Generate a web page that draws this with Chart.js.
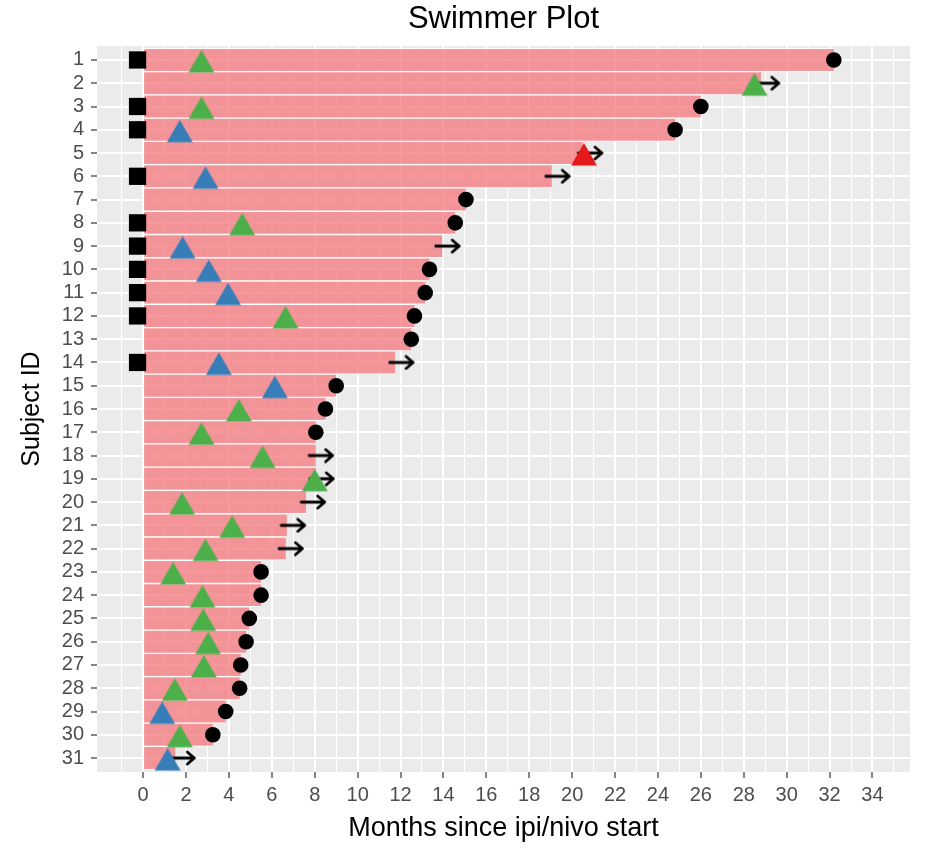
<!DOCTYPE html>
<html>
<head>
<meta charset="utf-8">
<script src="https://cdn.jsdelivr.net/npm/chart.js@4.4.1/dist/chart.umd.min.js"></script>
<style>
  body { margin: 0; background: #fff; }
  #wrap { width: 943px; height: 851px; }
</style>
</head>
<body>
<div id="wrap"><canvas id="myChart"></canvas></div>
<script>
// dane
const subjects = [1, 2, 3, 4, 5, 6, 7, 8, 9, 10, 11, 12, 13, 14, 15, 16, 17, 18, 19, 20, 21, 22, 23, 24, 25, 26, 27, 28, 29, 30, 31];
const months = [32.2, 28.8, 26.0, 24.8, 20.5, 19.05, 15.05, 14.55, 13.95, 13.35, 13.15, 12.65, 12.5, 11.75, 9.0, 8.5,
  8.05, 8.05, 8.05, 7.6, 6.7, 6.65, 5.5, 5.5, 4.95, 4.8, 4.55, 4.5, 3.85, 3.25, 1.5];

// czarne kwadraty (przed startem)
const squareIds = [1, 3, 4, 6, 8, 9, 10, 11, 12, 14];
const squareX = [-0.26, -0.26, -0.26, -0.26, -0.26, -0.26, -0.26, -0.26, -0.26, -0.26];

// trojkaty - odpowiedzi
const greenIds = [1, 2, 3, 8, 12, 16, 17, 18, 19, 20, 21, 22, 23, 24, 25, 26, 27, 28, 30];
const greenX = [2.72, 28.5, 2.72, 4.62, 6.64, 4.46, 2.72, 5.57, 8.0, 1.82, 4.15, 2.91, 1.4, 2.77, 2.8, 3.03, 2.83, 1.48, 1.71];
const blueIds = [4, 6, 9, 10, 11, 14, 15, 29, 31];
const blueX = [1.71, 2.91, 1.84, 3.06, 3.96, 3.53, 6.14, 0.89, 1.14];
const redIds = [5];
const redX = [20.55];

// kolka = koniec obserwacji, strzalki = dalej w trakcie
const circleIds = [1, 3, 4, 7, 8, 10, 11, 12, 13, 15, 16, 17, 23, 24, 25, 26, 27, 28, 29, 30];
const arrowIds = [2, 5, 6, 9, 14, 18, 19, 20, 21, 22, 31];
const arrowX = [29.1, 20.85, 19.33, 14.2, 12.05, 8.3, 8.33, 7.93, 7.0, 6.89, 1.85];

const xTicks = [0, 2, 4, 6, 8, 10, 12, 14, 16, 18, 20, 22, 24, 26, 28, 30, 32, 34];

const FONT = "'Liberation Sans', Arial, sans-serif";

function pts(ids, xs) {
    return ids.map((id, i) => ({ x: xs[i], y: id }));
}

// trojkat jako obrazek (lekko przesuniety w dol jak w ggplot)
function triangleImg(color) {
    const c = document.createElement('canvas');
    c.width = 28; c.height = 30;
    const g = c.getContext('2d');
    g.fillStyle = color;
    g.beginPath();
    g.moveTo(14, 5);
    g.lineTo(27, 27.5);
    g.lineTo(1, 27.5);
    g.closePath();
    g.fill();
    return c;
}

function arrowImg() {
    const c = document.createElement('canvas');
    c.width = 28; c.height = 16;
    const g = c.getContext('2d');
    g.strokeStyle = '#000';
    g.lineWidth = 2.8;
    g.lineCap = 'round';
    g.lineJoin = 'round';
    g.beginPath();
    g.moveTo(2, 8); g.lineTo(25.5, 8);
    g.moveTo(18.5, 2); g.lineTo(25.5, 8); g.lineTo(18.5, 14);
    g.stroke();
    return c;
}

const panelBg = {
    id: 'panelBg',
    beforeDraw(chart) {
        const { ctx, chartArea: a } = chart;
        ctx.save();
        ctx.fillStyle = '#fff';
        ctx.fillRect(0, 0, chart.width, chart.height);
        ctx.fillStyle = '#EBEBEB';
        ctx.fillRect(a.left, a.top, a.right - a.left, a.bottom - a.top);
        ctx.restore();
    }
};

const ctx = document.getElementById('myChart').getContext('2d');
const myChart = new Chart(ctx, {
    type: 'bar',
    data: {
        datasets: [
            {
                type: 'bar',
                data: months.map((v, i) => ({ x: v, y: subjects[i] })),
                backgroundColor: 'rgba(245, 120, 125, 0.76)',
                borderColor: '#fff',
                borderWidth: { top: 1, bottom: 1, left: 0, right: 0 },
                borderSkipped: false,
                barPercentage: 1,
                categoryPercentage: 1,
                order: 6
            },
            {
                type: 'scatter',
                data: pts(squareIds, squareX),
                pointStyle: 'rect',
                pointRadius: 12.2,
                backgroundColor: '#000',
                borderWidth: 0,
                order: 5
            },
            {
                type: 'scatter',
                data: pts(circleIds, circleIds.map(id => months[subjects.indexOf(id)])),
                pointStyle: 'circle',
                pointRadius: 7.8,
                backgroundColor: '#000',
                borderWidth: 0,
                order: 4
            },
            {
                type: 'scatter',
                data: pts(arrowIds, arrowX),
                pointStyle: arrowImg(),
                pointRadius: 8,
                order: 3
            },
            {
                type: 'scatter',
                data: pts(greenIds, greenX),
                pointStyle: triangleImg('#4DAF4A'),
                pointRadius: 10,
                order: 2
            },
            {
                type: 'scatter',
                data: pts(blueIds, blueX),
                pointStyle: triangleImg('#377EB8'),
                pointRadius: 10,
                order: 2
            },
            {
                type: 'scatter',
                data: pts(redIds, redX),
                pointStyle: triangleImg('#E41A1C'),
                pointRadius: 10,
                order: 1
            }
        ]
    },
    options: {
        indexAxis: 'y',
        responsive: true,
        maintainAspectRatio: false,
        animation: false,
        layout: { padding: { left: 0, right: 33, top: 0, bottom: 0 } },
        plugins: {
            legend: { display: false },
            tooltip: { enabled: false },
            title: {
                display: true,
                text: 'Swimmer Plot',
                fullSize: false,
                color: '#000',
                font: { family: FONT, size: 31, weight: 'normal' },
                padding: { top: 0.6, bottom: 8.2 }
            }
        },
        scales: {
            x: {
                type: 'linear',
                min: -2.15,
                max: 35.75,
                offset: false,
                border: { display: false },
                grid: {
                    offset: false,
                    color: '#fff',
                    lineWidth: c => (c.tick && c.tick.value % 2 === 0 ? 2 : 1),
                    tickColor: c => (c.tick && c.tick.value % 2 === 0 && c.tick.value >= 0 ? '#333' : 'rgba(0,0,0,0)'),
                    tickWidth: 1.2,
                    tickLength: 6
                },
                afterBuildTicks: scale => {
                    const t = [];
                    for (let v = -1; v <= 35; v++) t.push({ value: v });
                    scale.ticks = t;
                },
                ticks: {
                    autoSkip: false,
                    maxRotation: 0,
                    padding: 5,
                    color: '#4D4D4D',
                    font: { family: FONT, size: 20 },
                    callback: v => (xTicks.includes(v) ? String(v) : '')
                },
                title: {
                    display: true,
                    text: 'Months since ipi/nivo start',
                    color: '#000',
                    font: { family: FONT, size: 27 },
                    padding: { top: 0, bottom: 5.8 }
                },
                afterFit: scale => { scale.height = 79; }
            },
            y: {
                type: 'linear',
                reverse: true,
                min: 0.4,
                max: 31.6,
                offset: false,
                border: { display: false },
                grid: {
                    offset: false,
                    color: '#fff',
                    lineWidth: 2,
                    tickColor: '#333',
                    tickWidth: 1.2,
                    tickLength: 6
                },
                afterBuildTicks: scale => {
                    scale.ticks = subjects.map(v => ({ value: v }));
                },
                ticks: {
                    autoSkip: false,
                    padding: 7,
                    color: '#4D4D4D',
                    font: { family: FONT, size: 20 },
                    callback: v => String(v)
                },
                title: {
                    display: true,
                    text: 'Subject ID',
                    color: '#000',
                    font: { family: FONT, size: 25 },
                    padding: { top: 17, bottom: 0 }
                },
                afterFit: scale => { scale.width = 97; }
            }
        }
    },
    plugins: [panelBg]
});
</script>
</body>
</html>
